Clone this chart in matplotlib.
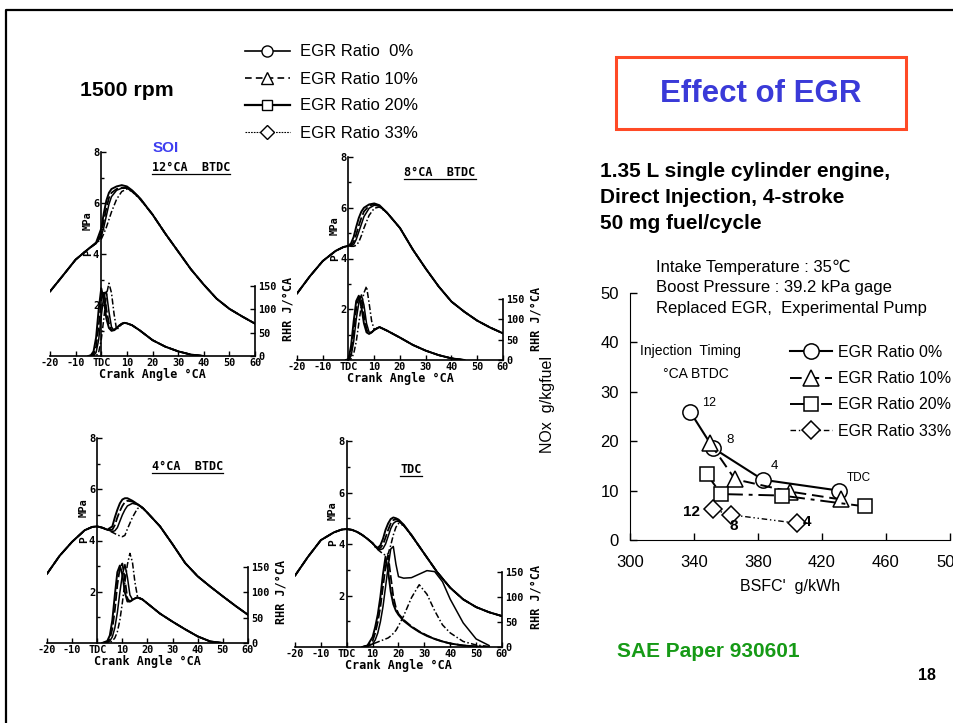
import matplotlib
matplotlib.use("Agg")
import matplotlib.pyplot as plt
from matplotlib.lines import Line2D
from matplotlib.patches import Rectangle
from matplotlib.transforms import IdentityTransform

W, H = 954, 723
plt.rcParams['font.family'] = ['Liberation Sans', 'DejaVu Sans']
MONO = 'DejaVu Sans Mono'

egr_labels = ["EGR Ratio  0%", "EGR Ratio 10%", "EGR Ratio 20%", "EGR Ratio 33%"]

# ---------------- crank angle diagrams (pressure MPa, RHR J/°CA) ----------------
# SOI 12 °CA BTDC
ca12 = [-20, -15, -10, -5, -2, 0, 1, 2, 3, 4, 6, 8, 10, 12, 15, 20, 25, 30, 35, 40, 45, 50, 55, 60]
p12_egr0 = [2.53, 3.15, 3.78, 4.2, 4.45, 5.0, 5.6, 6.1, 6.4, 6.55, 6.65, 6.7, 6.65, 6.5, 6.2, 5.55, 4.8, 4.1, 3.4, 2.8, 2.25, 1.85, 1.55, 1.27]
p12_egr10 = [2.53, 3.15, 3.78, 4.2, 4.42, 4.8, 5.3, 5.8, 6.2, 6.4, 6.55, 6.6, 6.6, 6.48, 6.2, 5.55, 4.8, 4.1, 3.4, 2.8, 2.25, 1.85, 1.55, 1.27]
p12_egr20 = [2.53, 3.15, 3.78, 4.2, 4.42, 4.68, 5.05, 5.5, 5.95, 6.25, 6.5, 6.58, 6.58, 6.46, 6.18, 5.55, 4.8, 4.1, 3.4, 2.8, 2.25, 1.85, 1.55, 1.27]
p12_egr33 = [2.53, 3.15, 3.78, 4.2, 4.42, 4.58, 4.8, 5.05, 5.35, 5.65, 6.15, 6.45, 6.55, 6.45, 6.16, 5.55, 4.8, 4.1, 3.4, 2.8, 2.25, 1.85, 1.55, 1.27]
ca12_r = [-5, -4, -3, -2, -1, 0, 1, 2, 3, 4, 5, 6, 7, 8, 9, 10, 12, 15, 20, 25, 30, 35, 40]
q12_egr0 = [0, 2, 10, 40, 100, 145, 120, 80, 60, 54, 56, 60, 65, 69, 71, 70, 66, 55, 34, 20, 10, 3, 0]
q12_egr10 = [0, 0, 4, 20, 65, 120, 140, 100, 70, 55, 55, 60, 65, 69, 71, 70, 66, 55, 34, 20, 10, 3, 0]
q12_egr20 = [0, 0, 0, 8, 35, 85, 130, 138, 95, 62, 55, 60, 65, 69, 71, 70, 66, 55, 34, 20, 10, 3, 0]
q12_egr33 = [0, 0, 0, 0, 8, 35, 80, 130, 156, 135, 90, 56, 62, 68, 71, 70, 66, 55, 34, 20, 10, 3, 0]

# SOI 8 °CA BTDC
ca8 = [-20, -15, -10, -5, -2, 0, 1, 2, 3, 4, 5, 6, 8, 10, 12, 15, 20, 25, 30, 35, 40, 45, 50, 55, 60]
p8_egr0 = [2.62, 3.3, 3.9, 4.3, 4.45, 4.5, 4.6, 4.85, 5.25, 5.6, 5.85, 6.0, 6.13, 6.17, 6.1, 5.8, 5.2, 4.35, 3.6, 2.9, 2.3, 1.9, 1.55, 1.28, 1.05]
p8_egr10 = [2.62, 3.3, 3.9, 4.3, 4.45, 4.5, 4.52, 4.65, 4.95, 5.3, 5.6, 5.85, 6.08, 6.14, 6.08, 5.8, 5.2, 4.35, 3.6, 2.9, 2.3, 1.9, 1.55, 1.28, 1.05]
p8_egr20 = [2.62, 3.3, 3.9, 4.3, 4.45, 4.5, 4.5, 4.55, 4.75, 5.05, 5.35, 5.65, 5.98, 6.1, 6.06, 5.8, 5.2, 4.35, 3.6, 2.9, 2.3, 1.9, 1.55, 1.28, 1.05]
p8_egr33 = [2.62, 3.3, 3.9, 4.3, 4.45, 4.5, 4.48, 4.48, 4.52, 4.65, 4.9, 5.2, 5.7, 5.98, 6.03, 5.8, 5.2, 4.35, 3.6, 2.9, 2.3, 1.9, 1.55, 1.28, 1.05]
ca8_r = [-1, 0, 1, 2, 3, 4, 5, 6, 7, 8, 9, 10, 12, 15, 20, 25, 30, 35, 40, 45]
q8_egr0 = [0, 2, 35, 95, 145, 158, 130, 90, 68, 64, 68, 74, 81, 72, 55, 37, 23, 12, 4, 0]
q8_egr10 = [0, 1, 20, 70, 125, 155, 155, 110, 75, 65, 68, 74, 81, 72, 55, 37, 23, 12, 4, 0]
q8_egr20 = [0, 0, 10, 45, 100, 140, 160, 135, 90, 68, 68, 74, 81, 72, 55, 37, 23, 12, 4, 0]
q8_egr33 = [0, 0, 3, 15, 45, 90, 135, 165, 181, 140, 95, 75, 81, 72, 55, 37, 23, 12, 4, 0]

# SOI 4 °CA BTDC
ca4 = [-20, -15, -10, -5, -2, 0, 2, 4, 6, 7, 8, 9, 10, 11, 12, 14, 16, 18, 20, 25, 30, 35, 40, 45, 50, 55, 60]
p4_egr0 = [2.7, 3.4, 3.95, 4.4, 4.53, 4.55, 4.5, 4.42, 4.55, 4.9, 5.2, 5.45, 5.6, 5.65, 5.65, 5.55, 5.42, 5.28, 5.08, 4.55, 3.85, 3.12, 2.6, 2.2, 1.82, 1.45, 1.1]
p4_egr10 = [2.7, 3.4, 3.95, 4.4, 4.53, 4.55, 4.5, 4.42, 4.42, 4.6, 4.9, 5.15, 5.35, 5.5, 5.55, 5.52, 5.42, 5.28, 5.08, 4.55, 3.85, 3.12, 2.6, 2.2, 1.82, 1.45, 1.1]
p4_egr20 = [2.7, 3.4, 3.95, 4.4, 4.53, 4.55, 4.5, 4.42, 4.35, 4.38, 4.5, 4.75, 5.0, 5.2, 5.35, 5.45, 5.4, 5.28, 5.08, 4.55, 3.85, 3.12, 2.6, 2.2, 1.82, 1.45, 1.1]
p4_egr33 = [2.7, 3.4, 3.95, 4.4, 4.53, 4.55, 4.5, 4.42, 4.32, 4.27, 4.22, 4.18, 4.15, 4.2, 4.45, 4.9, 5.25, 5.28, 5.08, 4.55, 3.85, 3.12, 2.6, 2.2, 1.82, 1.45, 1.1]
ca4_r = [2, 4, 5, 6, 7, 8, 9, 10, 11, 12, 13, 14, 15, 16, 18, 20, 25, 30, 35, 40, 45, 50]
q4_egr0 = [0, 4, 15, 45, 95, 140, 153, 135, 100, 82, 82, 85, 88, 90, 86, 78, 58, 42, 27, 13, 3, 0]
q4_egr10 = [0, 2, 8, 28, 65, 115, 148, 157, 125, 88, 82, 85, 88, 90, 86, 78, 58, 42, 27, 13, 3, 0]
q4_egr20 = [0, 1, 4, 12, 30, 60, 100, 135, 155, 130, 95, 86, 88, 90, 86, 78, 58, 42, 27, 13, 3, 0]
q4_egr33 = [0, 0, 1, 4, 10, 22, 45, 80, 120, 155, 177, 160, 120, 92, 86, 78, 58, 42, 27, 13, 3, 0]

# SOI TDC
ca0 = [-20, -15, -10, -5, -2, 0, 2, 4, 6, 8, 10, 11, 12, 13, 14, 15, 16, 17, 18, 19, 20, 22, 25, 30, 35, 40, 45, 50, 55, 60]
p0_egr0 = [2.77, 3.5, 4.15, 4.45, 4.56, 4.58, 4.55, 4.47, 4.35, 4.2, 4.03, 3.92, 3.85, 3.95, 4.2, 4.55, 4.8, 4.97, 5.03, 5.0, 4.95, 4.75, 4.35, 3.62, 2.9, 2.3, 1.85, 1.55, 1.35, 1.2]
p0_egr10 = [2.77, 3.5, 4.15, 4.45, 4.56, 4.58, 4.55, 4.47, 4.35, 4.2, 4.03, 3.9, 3.82, 3.85, 3.98, 4.25, 4.55, 4.8, 4.93, 4.96, 4.92, 4.73, 4.35, 3.62, 2.9, 2.3, 1.85, 1.55, 1.35, 1.2]
p0_egr20 = [2.77, 3.5, 4.15, 4.45, 4.56, 4.58, 4.55, 4.47, 4.35, 4.2, 4.03, 3.9, 3.8, 3.78, 3.82, 4.0, 4.3, 4.6, 4.8, 4.88, 4.88, 4.72, 4.33, 3.62, 2.9, 2.3, 1.85, 1.55, 1.35, 1.2]
p0_egr33 = [2.77, 3.5, 4.15, 4.45, 4.56, 4.58, 4.55, 4.47, 4.35, 4.2, 4.03, 3.88, 3.78, 3.7, 3.62, 3.56, 3.62, 3.95, 4.35, 4.65, 4.8, 4.72, 4.33, 3.62, 2.9, 2.3, 1.85, 1.55, 1.35, 1.2]
ca0_r = [6, 8, 10, 11, 12, 13, 14, 15, 16, 17, 18, 19, 20, 22, 25, 28, 31, 34, 37, 40, 45, 50, 55]
q0_egr0 = [0, 3, 20, 40, 65, 100, 145, 180, 150, 110, 85, 72, 64, 52, 40, 30, 22, 16, 11, 7, 3, 1, 0]
q0_egr10 = [0, 2, 12, 28, 50, 80, 120, 160, 182, 140, 100, 78, 66, 54, 41, 31, 23, 16, 11, 7, 3, 1, 0]
q0_egr20 = [0, 1, 6, 14, 28, 50, 80, 120, 160, 195, 200, 165, 140, 137, 138, 145, 152, 150, 130, 95, 48, 16, 3]
q0_egr33 = [0, 3, 6, 8, 10, 12, 14, 16, 18, 22, 27, 33, 42, 62, 98, 124, 105, 72, 44, 28, 11, 4, 1]

ca_ticks = [-20, -10, 0, 10, 20, 30, 40, 50, 60]
ca_ticklabels = ["-20", "-10", "TDC", "10", "20", "30", "40", "50", "60"]
rhr_ticks = [0, 50, 100, 150]

# ---------------- NOx vs BSFC ----------------
bsfc_egr0 = [337.5, 352.0, 383.0, 430.6]
nox_egr0 = [26.0, 18.6, 12.2, 10.0]
bsfc_egr10 = [350.0, 365.6, 400.0, 431.9]
nox_egr10 = [19.6, 12.3, 9.8, 8.2]
bsfc_egr20 = [347.9, 356.9, 394.8, 446.9]
nox_egr20 = [13.4, 9.3, 9.0, 6.8]
bsfc_egr33 = [351.7, 363.1, 404.2]
nox_egr33 = [6.2, 5.1, 3.4]

fig = plt.figure(figsize=(W / 100, H / 100), dpi=100)


def ftext(x, y, s, **kw):
    return fig.text(x / W, 1 - y / H, s, **kw)


# slide frame
fig.add_artist(Line2D([6 / W, 6 / W, 1], [0, 1 - 10 / H, 1 - 10 / H], color='k', lw=1.6))

egr_styles = [dict(ls='-', lw=1.4),
              dict(ls=(0, (5, 1.6)), lw=1.3),
              dict(ls='-', lw=1.1),
              dict(ls=(0, (4, 1.5, 1, 1.5)), lw=1.1)]

# panel boxes in pixels: x(-20), x(60), y(8 MPa), y(0), rhr value at top of axes
panel_boxes = [(50, 255, 152, 356, 437), (297, 503, 157, 360, 499),
               (47, 248, 438, 643, 405), (295, 502, 441, 647, 410)]
panel_titles = ["12°CA  BTDC", "8°CA  BTDC", "4°CA  BTDC", "TDC"]
title_pos = [(35, 7.4), (35.5, 7.4), (35.8, 6.9), (24.8, 6.9)]
panel_data = [(ca12, [p12_egr0, p12_egr10, p12_egr20, p12_egr33], ca12_r, [q12_egr0, q12_egr10, q12_egr20, q12_egr33]),
              (ca8, [p8_egr0, p8_egr10, p8_egr20, p8_egr33], ca8_r, [q8_egr0, q8_egr10, q8_egr20, q8_egr33]),
              (ca4, [p4_egr0, p4_egr10, p4_egr20, p4_egr33], ca4_r, [q4_egr0, q4_egr10, q4_egr20, q4_egr33]),
              (ca0, [p0_egr0, p0_egr10, p0_egr20, p0_egr33], ca0_r, [q0_egr0, q0_egr10, q0_egr20, q0_egr33])]

mono = dict(fontfamily=MONO, fontweight='bold')
title_texts = []
for (x0, x1, yt, yb, rtop), title, tpos, (ca, plist, car, qlist) in zip(panel_boxes, panel_titles, title_pos, panel_data):
    ax = fig.add_axes([x0 / W, 1 - yb / H, (x1 - x0) / W, (yb - yt) / H])
    ax.set_xlim(-20, 60)
    ax.set_ylim(0, 8)
    ax.patch.set_alpha(0)
    for p, st in zip(plist, egr_styles):
        ax.plot(ca, p, color='k', **st)
    ax.spines['top'].set_visible(False)
    ax.spines['right'].set_visible(False)
    ax.spines['left'].set_position(('data', 0))
    ax.spines['left'].set_bounds(0, 8)
    for s in ax.spines.values():
        s.set_linewidth(1.2)
    ax.set_xticks(ca_ticks, labels=ca_ticklabels, fontsize=7.3, **mono)
    ax.set_yticks([2, 4, 6, 8], labels=["2", "4", "6", "8"], fontsize=7.5, **mono)
    ax.set_yticks([1, 3, 5, 7], minor=True)
    ax.tick_params(axis='both', which='both', direction='in', length=3.5, width=1, pad=1.5)
    ax.tick_params(axis='y', which='minor', length=2.5)
    ax.set_xlabel("Crank Angle °CA", fontsize=8.5, labelpad=0, **mono)
    ax.text(-5.3, 5.3, "MPa", rotation=90, ha='center', va='center', fontsize=7.5, **mono)
    ax.text(-5.3, 4.05, "P", rotation=90, ha='center', va='center', fontsize=8, **mono)
    title_texts.append(ax.text(tpos[0], tpos[1], title, ha='center', va='center', fontsize=8.5, **mono))

    ax2 = ax.twinx()
    ax2.set_ylim(0, rtop)
    for q, st in zip(qlist, egr_styles):
        ax2.plot(car, q, color='k', **st)
    for side in ['left', 'top', 'bottom']:
        ax2.spines[side].set_visible(False)
    ax2.spines['right'].set_bounds(0, 150)
    ax2.spines['right'].set_linewidth(1.2)
    ax2.set_yticks(rhr_ticks, labels=[str(v) for v in rhr_ticks], fontsize=7.3, **mono)
    ax2.tick_params(axis='y', direction='in', length=3.5, width=1, pad=2.5)
    ax2.text(73, 100, "RHR J/°CA", rotation=90, ha='center', va='center', fontsize=8.5, clip_on=False, **mono)

# underline the injection timing titles
fig.canvas.draw()
rend = fig.canvas.get_renderer()
for t in title_texts:
    bb = t.get_window_extent(rend)
    fig.add_artist(Line2D([bb.x0, bb.x1], [bb.y0 - 0.5, bb.y0 - 0.5], color='k', lw=0.9,
                          transform=IdentityTransform()))

# top legend for the crank angle diagrams
legend_handles = [Line2D([], [], color='k', lw=1.2, ls='-', marker='o', ms=8, mfc='white', mec='k', mew=1),
                  Line2D([], [], color='k', lw=1.2, ls=(0, (4, 2.5)), marker='^', ms=8, mfc='white', mec='k', mew=1),
                  Line2D([], [], color='k', lw=1.6, ls='-', marker='s', ms=7.5, mfc='white', mec='k', mew=1),
                  Line2D([], [], color='k', lw=0.8, ls=(0, (1.5, 1)), marker='D', ms=7, mfc='white', mec='k', mew=1)]
fig.legend(legend_handles, egr_labels, loc='upper left', bbox_to_anchor=(245 / W, 1 - 44.5 / H),
           frameon=False, fontsize=12, handlelength=2.7, handletextpad=0.6, labelspacing=0.72,
           borderpad=0, borderaxespad=0)

# ---------------- NOx - BSFC trade-off ----------------
axn = fig.add_axes([630 / W, 1 - 540 / H, 320 / W, 247 / H])
axn.set_xlim(300, 500)
axn.set_ylim(0, 50)
axn.patch.set_alpha(0)
nox_styles = [dict(ls='-', lw=1.5, marker='o', ms=11),
              dict(ls=(0, (6, 3)), lw=1.4, marker='^', ms=11),
              dict(ls=(0, (8, 3, 2, 3)), lw=1.4, marker='s', ms=10),
              dict(ls=(0, (4, 2, 1, 2, 1, 2)), lw=1.0, marker='D', ms=9)]
nox_series = [(bsfc_egr0, nox_egr0), (bsfc_egr10, nox_egr10), (bsfc_egr20, nox_egr20), (bsfc_egr33, nox_egr33)]
for (xs, ys), st, lab in zip(nox_series, nox_styles, egr_labels):
    axn.plot(xs, ys, color='k', mfc='white', mec='k', mew=1.1, label=lab.replace("  ", " "), clip_on=False, **st)
axn.spines['top'].set_visible(False)
axn.spines['right'].set_visible(False)
axn.set_xticks([300, 340, 380, 420, 460, 500])
axn.set_yticks([0, 10, 20, 30, 40, 50])
axn.tick_params(axis='both', direction='in', length=5, width=1, labelsize=12)
axn.tick_params(axis='x', pad=11)
axn.tick_params(axis='y', pad=8)
axn.set_xlabel("BSFC'  g/kWh", fontsize=11.5, labelpad=6)
axn.set_ylabel("NOx  g/kgfuel", fontsize=11.5)
axn.yaxis.set_label_coords(-0.235, 0.55)
axn.legend(loc='upper left', bbox_to_anchor=(790 / W, 1 - 345 / H), bbox_transform=fig.transFigure,
           frameon=False, fontsize=11.5, handlelength=2.6, handletextpad=0.4, labelspacing=0.7,
           borderpad=0, borderaxespad=0)

# injection timing labels next to the points
axn.annotate("12", (bsfc_egr0[0], nox_egr0[0]), xytext=(14, 6), textcoords='offset points', fontsize=9, ha='center', va='center')
axn.annotate("8", (bsfc_egr0[1], nox_egr0[1]), xytext=(12, 6), textcoords='offset points', fontsize=9.5, ha='center', va='center')
axn.annotate("4", (bsfc_egr0[2], nox_egr0[2]), xytext=(8, 10), textcoords='offset points', fontsize=9.5, ha='center', va='center')
axn.annotate("TDC", (bsfc_egr0[3], nox_egr0[3]), xytext=(14, 9), textcoords='offset points', fontsize=8.5, ha='center', va='center')
axn.annotate("12", (bsfc_egr33[0], nox_egr33[0]), xytext=(-15, -2), textcoords='offset points', fontsize=11, fontweight='bold', ha='center', va='center')
axn.annotate("8", (bsfc_egr33[1], nox_egr33[1]), xytext=(2, -8), textcoords='offset points', fontsize=11, fontweight='bold', ha='center', va='center')
axn.annotate("4", (bsfc_egr33[2], nox_egr33[2]), xytext=(4, 1), textcoords='offset points', fontsize=11, fontweight='bold', ha='left', va='center')

ftext(640, 351, "Injection  Timing", fontsize=10, va='center')
ftext(663, 374, "°CA BTDC", fontsize=10, va='center')
ftext(656, 267, "Intake Temperature : 35℃", fontsize=12, va='center')
ftext(656, 288, "Boost Pressure : 39.2 kPa gage", fontsize=12, va='center')
ftext(656, 309, "Replaced EGR,  Experimental Pump", fontsize=12, va='center')

# ---------------- slide texts ----------------
ftext(80, 90, "1500 rpm", fontsize=15.3, fontweight='bold', va='center')
ftext(153, 148, "SOI", fontsize=11, fontweight='bold', color='#3d3df0', va='center')
fig.add_artist(Rectangle((616 / W, 1 - 129 / H), 290 / W, 72 / H, transform=fig.transFigure,
                         fill=False, ec='#ff4a26', lw=2.2))
ftext(761, 94, "Effect of EGR", fontsize=22.5, fontweight='bold', color='#3a3ad8', ha='center', va='center')
ftext(600, 177, "1.35 L single cylinder engine,", fontsize=15, fontweight='bold', va='baseline')
ftext(600, 203, "Direct Injection, 4-stroke", fontsize=15, fontweight='bold', va='baseline')
ftext(600, 229, "50 mg fuel/cycle", fontsize=15, fontweight='bold', va='baseline')
ftext(617, 657, "SAE Paper 930601", fontsize=15, fontweight='bold', color='#169a16', va='baseline')
ftext(918, 680, "18", fontsize=11.5, fontweight='bold', va='baseline')

fig.savefig("out.png", dpi=100)
